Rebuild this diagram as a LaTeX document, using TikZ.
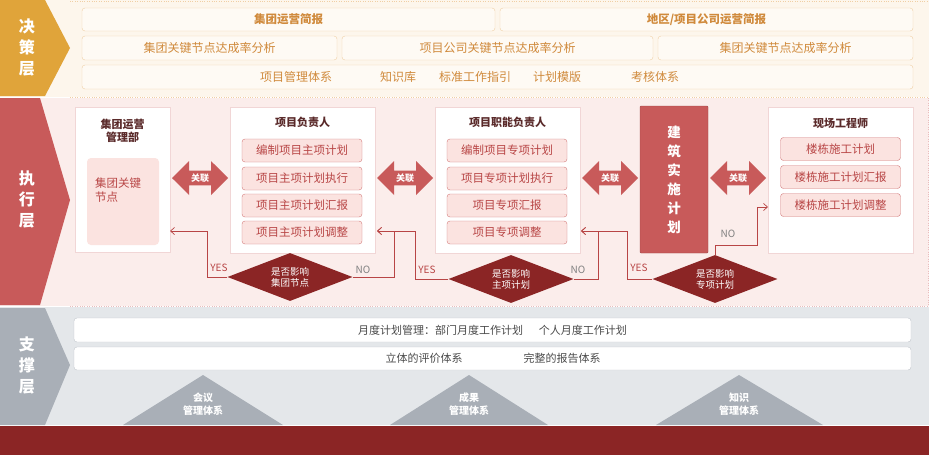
\documentclass[tikz,border=0pt]{standalone}
\usepackage{fontspec}
\setmainfont{Noto Sans CJK SC}
\usetikzlibrary{shapes.geometric,shapes.arrows,arrows.meta}
\definecolor{dorange}{HTML}{E0A43A}
\definecolor{dtext}{HTML}{D08A3C}
\definecolor{dborder}{HTML}{F0CFA5}
\definecolor{dbg}{HTML}{FDF6EC}
\definecolor{ered}{HTML}{C85A5A}
\definecolor{ebg}{HTML}{FBEDEB}
\definecolor{eitem}{HTML}{FBE3E0}
\definecolor{etext}{HTML}{B84545}
\definecolor{etitle}{HTML}{5A2A2A}
\definecolor{dred}{HTML}{8B2525}
\definecolor{sgray}{HTML}{A9AFB7}
\definecolor{sbg}{HTML}{E4E7EA}
\definecolor{stext}{HTML}{4A4A4A}
\tikzset{
 dbox/.style={draw=dborder,fill=dbg!60!white,rounded corners=3pt,inner sep=0pt,text=dtext,font=\fontsize{12}{14}\selectfont},
 panel/.style={draw=ered!25,fill=white,inner sep=0pt},
 ptitle/.style={text=etitle,font=\bfseries\fontsize{11}{13}\selectfont,align=center},
 item/.style={draw=ered!80,fill=eitem,rounded corners=3pt,minimum width=120pt,minimum height=23pt,inner sep=0pt,text=etext,font=\fontsize{11.5}{13}\selectfont},
 link/.style={double arrow,double arrow head extend=6pt,fill=ered,minimum width=34pt,minimum height=56pt,inner sep=0pt,text=white,font=\bfseries\fontsize{9}{10}\selectfont},
 dec/.style={diamond,aspect=2.5,fill=dred,minimum width=125pt,minimum height=48pt,inner sep=0pt,text=white,align=center,font=\fontsize{9.5}{11}\selectfont},
 flow/.style={draw=etext,line width=0.7pt,-{Straight Barb[length=4pt,width=7pt]}},
 lab/.style={font=\fontsize{10}{11}\selectfont},
 layer/.style={text=white,font=\bfseries\fontsize{16}{21}\selectfont,align=center},
 sbox/.style={draw=sgray!70,fill=white,rounded corners=3pt,inner sep=0pt,text=stext,font=\fontsize{11}{13}\selectfont},
 tri/.style={fill=sgray},
 tlab/.style={text=white,align=center,font=\bfseries\fontsize{10}{12.5}\selectfont},
}
\begin{document}
\begin{tikzpicture}[x=1pt,y=-1pt]
\useasboundingbox (0,0) rectangle (929,455);
% bands
\fill[dbg] (0,0) rectangle (929,97);
\fill[ebg] (0,98) rectangle (929,306);
\fill[sbg] (0,307) rectangle (929,425);
\fill[dred] (0,426) rectangle (929,455);
\draw[dborder,dotted] (70,1)--(928,1) (70,97)--(928,97);
\draw[ered!40,dotted] (70,306)--(928,306) (928,98)--(928,306);
% chevrons
\fill[dorange] (0,0)--(45,0)--(70,48)--(45,96)--(0,96)--cycle;
\fill[ered] (0,98)--(40,98)--(70,200)--(40,305)--(0,305)--cycle;
\fill[sgray] (0,308)--(45,308)--(70,365)--(45,425)--(0,425)--cycle;
\node[layer] (L1) at (27,48) {决\\策\\层};
\node[layer] (L2) at (27,200) {执\\行\\层};
\node[layer] (L3) at (27,366) {支\\撑\\层};
% decision layer
\node[dbox,minimum width=413pt,minimum height=23pt,font=\bfseries\fontsize{11.5}{13}\selectfont] (d1) at (288.5,19.5) {集团运营简报};
\node[dbox,minimum width=413pt,minimum height=23pt,font=\bfseries\fontsize{11.5}{13}\selectfont] (d2) at (706.5,19.5) {地区/项目公司运营简报};
\node[dbox,minimum width=255pt,minimum height=24pt] (d3) at (209.5,48) {集团关键节点达成率分析};
\node[dbox,minimum width=311pt,minimum height=24pt] (d4) at (497.5,48) {项目公司关键节点达成率分析};
\node[dbox,minimum width=255pt,minimum height=24pt] (d5) at (785.5,48) {集团关键节点达成率分析};
\node[dbox,minimum width=831pt,minimum height=24pt] (d6) at (497.5,77) {};
\foreach \x/\t/\n in {296/项目管理体系/a,398/知识库/b,475/标准工作指引/c,557/计划模版/d,655/考核体系/e}
  \node[text=dtext,font=\fontsize{12}{14}\selectfont] (k\n) at (\x,77) {\t};
% exec layer panels
\node[panel,minimum width=95pt,minimum height=145pt] (p1) at (122.5,179.5) {};
\node[ptitle] (p1t) at (122.5,131) {集团运营\\管理部};
\node[fill=eitem,rounded corners=4pt,minimum width=72pt,minimum height=87pt,inner sep=0pt] (p1i) at (123,201.5) {};
\node[anchor=north west,text=etext,align=left,font=\fontsize{11.5}{14}\selectfont,inner sep=0pt] (p1x) at (95,178) {集团关键\\节点};
\node[panel,minimum width=145pt,minimum height=146pt] (p2) at (302.5,180) {};
\node[ptitle] (p2t) at (302.5,122) {项目负责人};
\node[item] (a1) at (302,150.5) {编制项目主项计划};
\node[item] (a2) at (302,178.5) {项目主项计划执行};
\node[item] (a3) at (302,205.5) {项目主项计划汇报};
\node[item] (a4) at (302,232.5) {项目主项计划调整};
\node[panel,minimum width=145pt,minimum height=146pt] (p3) at (507.5,180) {};
\node[ptitle] (p3t) at (507.5,122) {项目职能负责人};
\node[item] (b1) at (507,150.5) {编制项目专项计划};
\node[item] (b2) at (507,178.5) {项目专项计划执行};
\node[item] (b3) at (507,205.5) {项目专项汇报};
\node[item] (b4) at (507,232.5) {项目专项调整};
\node[fill=ered,draw=ered!80!black,rounded corners=1pt,minimum width=68pt,minimum height=147pt,inner sep=0pt,text=white,align=center,font=\bfseries\fontsize{13.5}{19}\selectfont] (jz) at (674,179.5) {建\\筑\\实\\施\\计\\划};
\node[panel,minimum width=145pt,minimum height=146pt] (p4) at (840.5,180) {};
\node[ptitle] (p4t) at (840.5,123) {现场工程师};
\node[item] (c1) at (840.5,149) {楼栋施工计划};
\node[item] (c2) at (840.5,177) {楼栋施工计划汇报};
\node[item] (c3) at (840.5,205) {楼栋施工计划调整};
% links
\node[link] (g1) at (200,178) {关联};
\node[link] (g2) at (405,178) {关联};
\node[link] (g3) at (610,178) {关联};
\node[link] (g4) at (738,178) {关联};
% decisions
\node[dec] (q1) at (290,277) {是否影响\\集团节点};
\node[dec] (q2) at (511,279) {是否影响\\主项计划};
\node[dec] (q3) at (715,279) {是否影响\\专项计划};
\coordinate (e1) at (170,231);
\coordinate (e2) at (377,231);
\coordinate (e3) at (581,231);
\coordinate (e4) at (768,207);
\draw[flow] (q1.west)-|(207,231)--(e1);
\draw[flow] (q1.east)-|(394,231)--(e2);
\draw[flow] (q2.west)-|(415,231)--(e2);
\draw[flow] (q2.east)-|(598,231)--(e3);
\draw[flow] (q3.west)-|(627,231)--(e3);
\draw[flow] (q3.north)--(715,245)-|(757,207)--(e4);
\node[lab,text=etext] (y1) at (219,268) {YES};
\node[lab,text=gray] (n1) at (363,270) {NO};
\node[lab,text=etext] (y2) at (427,270) {YES};
\node[lab,text=gray] (n2) at (578,270) {NO};
\node[lab,text=etext] (y3) at (639,268) {YES};
\node[lab,text=gray] (n3) at (728,234) {NO};
% support layer
\node[sbox,minimum width=837pt,minimum height=24pt] (s1) at (492.5,330) {月度计划管理：部门月度工作计划\hspace{16pt}个人月度工作计划};
\node[sbox,minimum width=837pt,minimum height=23pt] (s2) at (492.5,358.5) {};
\node[text=stext,font=\fontsize{11}{13}\selectfont] (s2a) at (424,358.5) {立体的评价体系};
\node[text=stext,font=\fontsize{11}{13}\selectfont] (s2b) at (562,358.5) {完整的报告体系};
\fill[tri] (203,375)--(283,425)--(123,425)--cycle;
\fill[tri] (469,375)--(548,425)--(390,425)--cycle;
\fill[tri] (739,375)--(823,425)--(656,425)--cycle;
\node[tlab] (t1) at (203,404) {会议\\管理体系};
\node[tlab] (t2) at (469,404) {成果\\管理体系};
\node[tlab] (t3) at (739,404) {知识\\管理体系};
\end{tikzpicture}
\end{document}
